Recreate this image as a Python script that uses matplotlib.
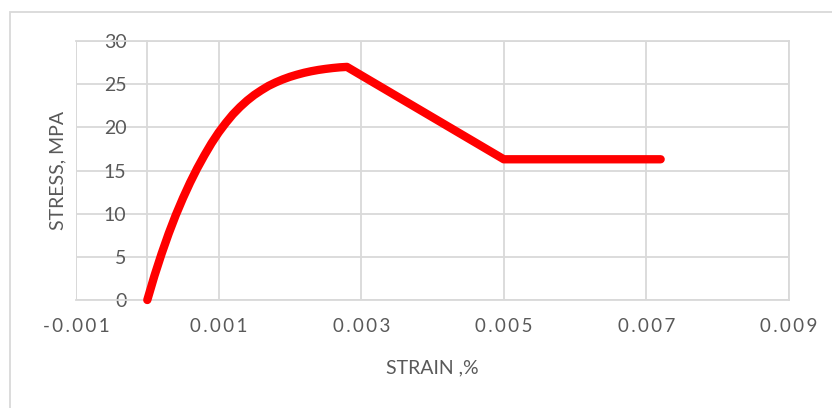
import matplotlib
matplotlib.use("Agg")
import matplotlib.pyplot as plt
from matplotlib.patches import Rectangle
from matplotlib.ticker import FuncFormatter

# Data
strain = [0.0, 0.0001, 0.0002, 0.0003, 0.0004, 0.0005, 0.0006, 0.0007, 0.0008, 0.0009,
          0.0010, 0.0011, 0.0012, 0.0013, 0.0014, 0.0015, 0.0016, 0.0017, 0.0018,
          0.0019, 0.0020, 0.0021, 0.0022, 0.0023, 0.0024, 0.0025, 0.0026, 0.0027,
          0.0028, 0.0050, 0.0072]
stress = [0.0, 2.8, 5.35, 7.7, 9.85, 11.8, 13.6, 15.25, 16.75, 18.15,
          19.4, 20.5, 21.5, 22.35, 23.1, 23.75, 24.3, 24.8, 25.2,
          25.55, 25.85, 26.1, 26.32, 26.5, 26.65, 26.77, 26.87, 26.95,
          27.0, 16.3, 16.3]

x_ticks = [-0.001, 0.001, 0.003, 0.005, 0.007, 0.009]
y_ticks = [0, 5, 10, 15, 20, 25, 30]
x_label = "STRAIN ,%"
y_label = "STRESS, MPA"

W, H = 832, 408
fig = plt.figure(figsize=(W / 100, H / 100), dpi=100)
plt.rcParams['font.family'] = ['Lato', 'DejaVu Sans']

grid_c = "#d9d9d9"
text_c = "#595959"

# chart-area border
fig.patches.append(Rectangle((10 / W, -0.1), 1.2, 1 - 12 / H + 0.1,
                             transform=fig.transFigure, fill=False,
                             edgecolor=grid_c, linewidth=1.3))

ax = fig.add_axes([76 / W, 1 - 300 / H, (789 - 76) / W, (300 - 41) / H])
ax.set_xlim(-0.001, 0.009)
ax.set_ylim(0, 30)

for s in ax.spines.values():
    s.set_color(grid_c)
    s.set_linewidth(1.3)
ax.spines['left'].set_position(('data', 0))
ax.axvline(-0.001, color=grid_c, lw=1.3, zorder=0)

ax.set_xticks(x_ticks)
ax.set_yticks(y_ticks)
ax.grid(True, color=grid_c, linewidth=1.3)
ax.set_axisbelow(True)
ax.tick_params(length=0)
ax.tick_params(axis='y', pad=15, labelsize=14, labelcolor=text_c)
ax.tick_params(axis='x', pad=13, labelsize=13.5, labelcolor=text_c)

def spaced(v, pos):
    s = f"{v:.3f}"
    return "\u2009".join(s)
ax.xaxis.set_major_formatter(FuncFormatter(spaced))

ax.plot(strain, stress, color="#ff0000", linewidth=6, solid_capstyle='round',
        solid_joinstyle='round', zorder=3, clip_on=False)

fig.text(432 / W, 1 - 368 / H, x_label, ha='center', va='center',
         fontsize=14, color=text_c)
fig.text(58 / W, 1 - 170 / H, y_label, ha='center', va='center',
         rotation=90, fontsize=14, color=text_c)

fig.savefig("out.png", dpi=100)
